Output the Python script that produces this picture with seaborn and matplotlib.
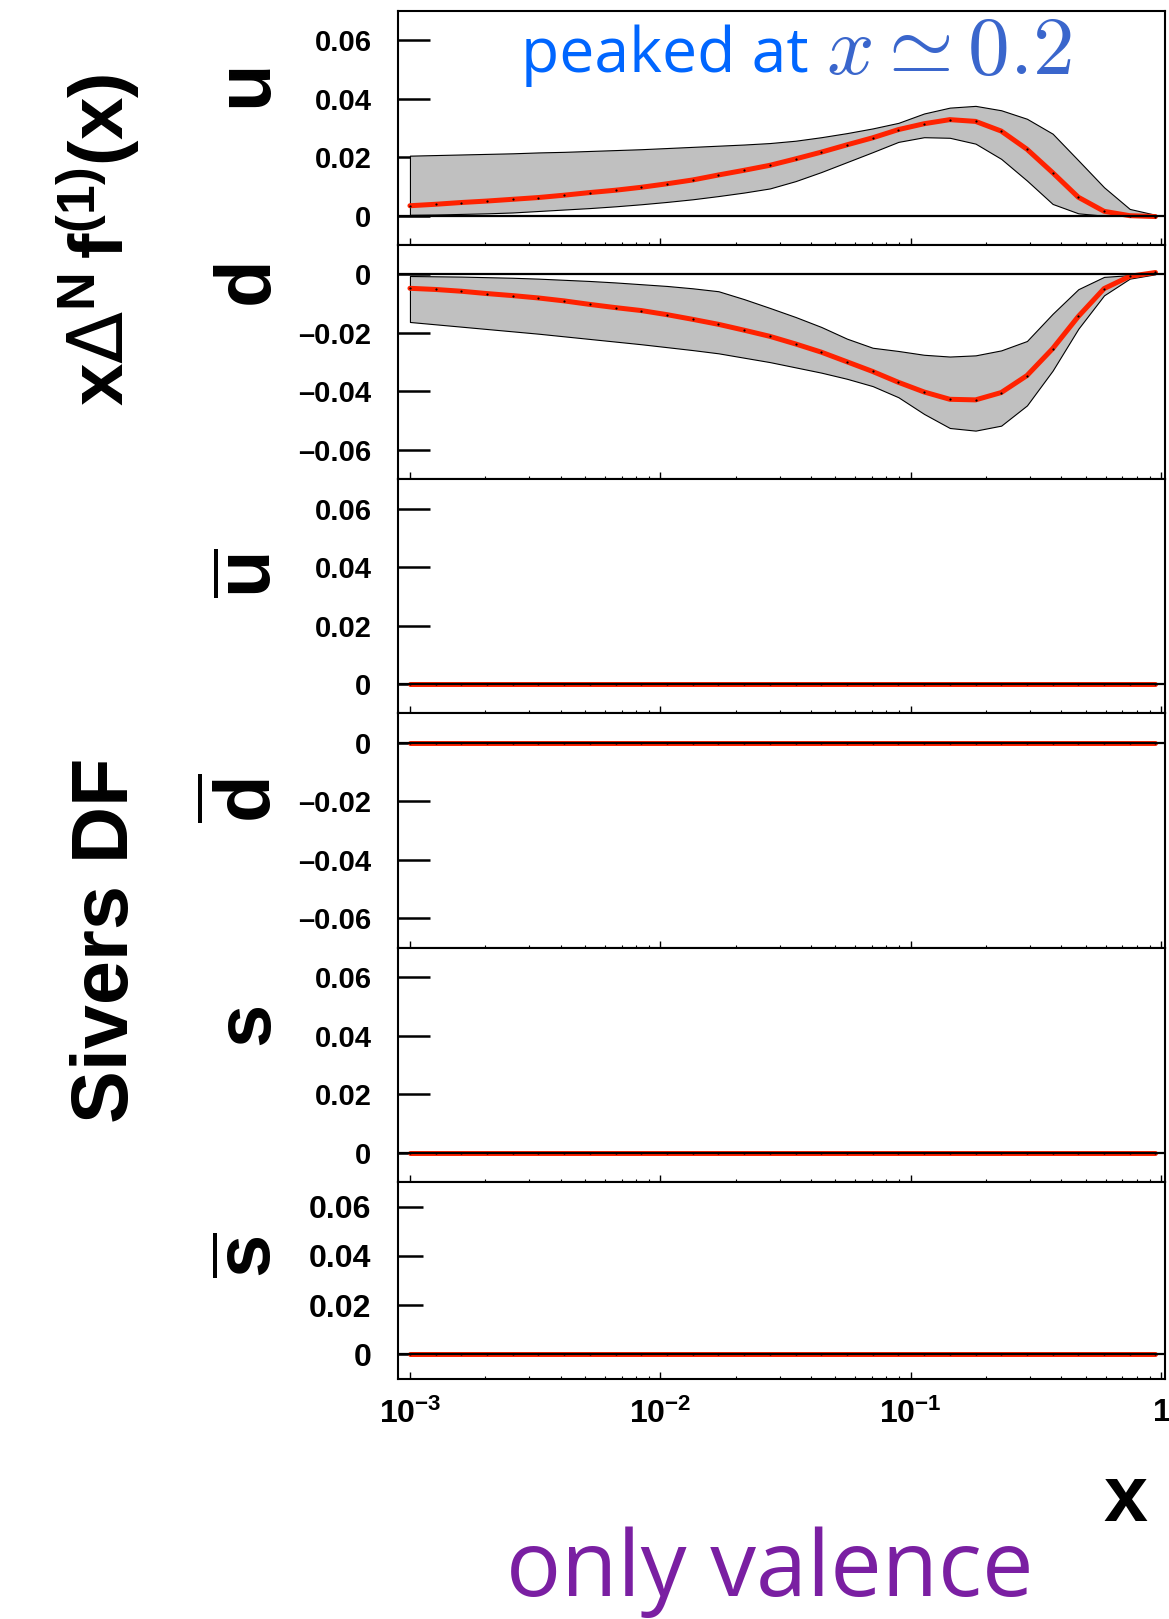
import matplotlib
matplotlib.use("Agg")
import matplotlib.pyplot as plt
from matplotlib.ticker import FixedLocator, FixedFormatter, LogLocator, NullFormatter
import numpy as np
import pandas as pd
import seaborn as sns

# ---------------------------------------------------------------- data
x_grid = [0.001000, 0.001267, 0.001605, 0.002032, 0.002575, 0.003261,
          0.004131, 0.005232, 0.006628, 0.008397, 0.01064, 0.01347,
          0.01707, 0.02161, 0.02738, 0.03469, 0.04395, 0.05567,
          0.07050, 0.08931, 0.1131, 0.1433, 0.1816, 0.2299,
          0.2913, 0.3690, 0.4674, 0.5921, 0.7499, 0.9500]

u_central = [0.0034, 0.0039, 0.0045, 0.0050, 0.0056, 0.0062, 0.0070, 0.0079,
             0.0087, 0.0097, 0.0109, 0.0122, 0.0139, 0.0155, 0.0172, 0.0194,
             0.0217, 0.0242, 0.0266, 0.0294, 0.0314, 0.0328, 0.0322, 0.0289,
             0.0227, 0.0147, 0.0063, 0.0015, 0.0000, -0.0003]
u_upper = [0.0205, 0.0207, 0.0209, 0.0211, 0.0213, 0.0216, 0.0218, 0.0221,
           0.0224, 0.0227, 0.0231, 0.0235, 0.0239, 0.0243, 0.0248, 0.0256,
           0.0268, 0.0282, 0.0298, 0.0317, 0.0349, 0.0369, 0.0375, 0.0360,
           0.0331, 0.0280, 0.0189, 0.0097, 0.0023, 0.0003]
u_lower = [0.0003, 0.0004, 0.0006, 0.0008, 0.0011, 0.0016, 0.0021, 0.0026,
           0.0032, 0.0039, 0.0047, 0.0056, 0.0067, 0.0079, 0.0093, 0.0118,
           0.0149, 0.0183, 0.0217, 0.0252, 0.0268, 0.0266, 0.0246, 0.0194,
           0.0120, 0.0040, 0.0008, 0.0000, 0.0000, 0.0000]

d_central = [-0.0048, -0.0052, -0.0058, -0.0066, -0.0073, -0.0081, -0.0091, -0.0103,
             -0.0114, -0.0124, -0.0138, -0.0154, -0.0171, -0.0191, -0.0212, -0.0238,
             -0.0266, -0.0299, -0.0332, -0.0369, -0.0402, -0.0427, -0.0429, -0.0404,
             -0.0346, -0.0254, -0.0144, -0.0049, -0.0007, 0.0006]
d_upper = [-0.0006, -0.0007, -0.0008, -0.0010, -0.0012, -0.0015, -0.0019, -0.0023,
           -0.0028, -0.0034, -0.0040, -0.0048, -0.0058, -0.0085, -0.0115, -0.0146,
           -0.0180, -0.0220, -0.0251, -0.0262, -0.0275, -0.0281, -0.0277, -0.0260,
           -0.0228, -0.0135, -0.0051, -0.0009, -0.0003, 0.0000]
d_lower = [-0.0163, -0.0171, -0.0179, -0.0187, -0.0195, -0.0203, -0.0212, -0.0221,
           -0.0230, -0.0239, -0.0249, -0.0259, -0.0270, -0.0285, -0.0300, -0.0318,
           -0.0336, -0.0357, -0.0382, -0.0420, -0.0477, -0.0525, -0.0534, -0.0517,
           -0.0448, -0.0329, -0.0186, -0.0072, -0.0015, 0.0000]

# sea quarks vanish identically in this fit
sea_zero = [0.0] * len(x_grid)

flavour_labels = [r"$\mathbf{u}$", r"$\mathbf{d}$", r"$\overline{\mathbf{u}}$",
                  r"$\overline{\mathbf{d}}$", r"$\mathbf{s}$", r"$\overline{\mathbf{s}}$"]
pos_ticks = [0.0, 0.02, 0.04, 0.06]
pos_tick_labels = ["0", "0.02", "0.04", "0.06"]
neg_ticks = [-0.06, -0.04, -0.02, 0.0]
neg_tick_labels = ["\u20130.06", "\u20130.04", "\u20130.02", "0"]
x_ticks = [1e-3, 1e-2, 1e-1, 1.0]
x_tick_labels = [r"$\mathbf{10^{-3}}$", r"$\mathbf{10^{-2}}$", r"$\mathbf{10^{-1}}$", r"$\mathbf{1}$"]

panels = [
    dict(c=u_central, lo=u_lower, hi=u_upper, sign=+1),
    dict(c=d_central, lo=d_lower, hi=d_upper, sign=-1),
    dict(c=sea_zero, lo=sea_zero, hi=sea_zero, sign=+1),
    dict(c=sea_zero, lo=sea_zero, hi=sea_zero, sign=-1),
    dict(c=sea_zero, lo=sea_zero, hi=sea_zero, sign=+1),
    dict(c=sea_zero, lo=sea_zero, hi=sea_zero, sign=+1),
]

# ---------------------------------------------------------------- style
sns.set_style("white")
plt.rcParams["font.family"] = ["Liberation Sans", "DejaVu Sans"]
plt.rcParams["font.weight"] = "bold"
plt.rcParams["text.color"] = "black"
plt.rcParams["axes.labelcolor"] = "black"
plt.rcParams["xtick.color"] = "black"
plt.rcParams["ytick.color"] = "black"
plt.rcParams["mathtext.fontset"] = "custom"
plt.rcParams["mathtext.rm"] = "DejaVu Sans:normal"
plt.rcParams["mathtext.bf"] = "Liberation Sans:bold"
plt.rcParams["mathtext.it"] = "Liberation Sans:italic"
plt.rcParams["axes.linewidth"] = 1.5
plt.rcParams["axes.edgecolor"] = "black"

RED = "#ff2200"
BAND = "#c0c0c0"

W, H = 1169, 1619
fig = plt.figure(figsize=(W / 100, H / 100), dpi=100)


def fx(px):
    return px / W


def fy(py):
    return 1 - py / H


gs = fig.add_gridspec(6, 1, height_ratios=[234.3] * 5 + [197.0], hspace=0,
                      left=fx(398), right=fx(1165), top=fy(10.7), bottom=fy(1379))

for i, p in enumerate(panels):
    ax = fig.add_subplot(gs[i])
    ax.set_xscale("log")
    ax.set_xlim(8.96e-4, 1.037)
    ax.set_ylim((-0.01, 0.07) if p["sign"] > 0 else (-0.07, 0.01))

    ax.fill_between(x_grid, p["lo"], p["hi"], facecolor=BAND, edgecolor="black",
                    linewidth=0.8, zorder=1)
    df = pd.DataFrame({"x": x_grid, "f": p["c"]})
    sns.lineplot(data=df, x="x", y="f", ax=ax, color=RED, linewidth=3.6,
                 estimator=None, sort=False, legend=False, zorder=2)
    sns.scatterplot(data=df, x="x", y="f", ax=ax, color="black", s=2.5,
                    linewidth=0, legend=False, zorder=3)
    ax.axhline(0, color="black", linewidth=1.6, zorder=4)
    ax.set_xlabel("")
    ax.set_ylabel("")

    last = i == len(panels) - 1
    ticks = pos_ticks if p["sign"] > 0 else neg_ticks
    labels = pos_tick_labels if p["sign"] > 0 else neg_tick_labels
    ax.yaxis.set_major_locator(FixedLocator(ticks))
    ax.yaxis.set_major_formatter(FixedFormatter(labels))
    ax.yaxis.set_minor_locator(FixedLocator([]))
    ax.tick_params(axis="y", which="major", direction="in", left=True, right=False,
                   length=18 if last else 23, width=1.8,
                   labelsize=23 if last else 21, pad=19, colors="black")

    ax.xaxis.set_major_locator(FixedLocator(x_ticks))
    ax.xaxis.set_minor_locator(LogLocator(base=10, subs=np.arange(2, 10) * 1.0, numticks=20))
    ax.xaxis.set_minor_formatter(NullFormatter())
    ax.tick_params(axis="x", which="major", direction="in", bottom=True, top=False,
                   length=5, width=1.0, colors="black")
    ax.tick_params(axis="x", which="minor", direction="in", bottom=True, top=False,
                   length=2.5, width=0.8, colors="black")
    if last:
        ax.xaxis.set_major_formatter(FixedFormatter(x_tick_labels))
        ax.tick_params(axis="x", which="major", labelsize=23, pad=14)
    else:
        ax.tick_params(axis="x", labelbottom=False)
    for lab in ax.get_yticklabels():
        lab.set_fontweight("bold")
        lab.set_color("black")

# flavour labels beside each panel
label_centres = [90, 286, 573, 798, 1027, 1255]
for txt, yc in zip(flavour_labels, label_centres):
    fig.text(fx(271), fy(yc), txt, rotation=90, rotation_mode="anchor",
             ha="center", va="baseline", fontsize=56, color="black")

# overall axis titles
fig.text(fx(123), fy(240),
         r"$\mathbf{x}\Delta^{\mathbf{N}}\,\mathbf{f}^{\mathbf{(1)}}\mathbf{(x)}$",
         rotation=90, rotation_mode="anchor", ha="center", va="baseline",
         fontsize=55, color="black")
fig.text(fx(128), fy(940), "Sivers DF", rotation=90, rotation_mode="anchor",
         ha="center", va="baseline", fontsize=57, fontweight="bold", color="black")
fig.text(fx(1125), fy(1500), "x", ha="center", va="center", fontsize=57,
         fontweight="bold", color="black")

# annotations
fig.text(fx(521), fy(72), "peaked at", ha="left", va="baseline", fontsize=45,
         fontweight="normal", family=["Open Sans"], color="#0066ff")
fig.text(fx(826), fy(74), r"$x \simeq 0.2$", ha="left", va="baseline", fontsize=60,
         math_fontfamily="cm", color="#3a66cc")
fig.text(fx(770), fy(1596), "only valence", ha="center", va="baseline", fontsize=66,
         fontweight="normal", family=["Open Sans"], color="#7a1fa2")

fig.savefig("out.png", dpi=100)
